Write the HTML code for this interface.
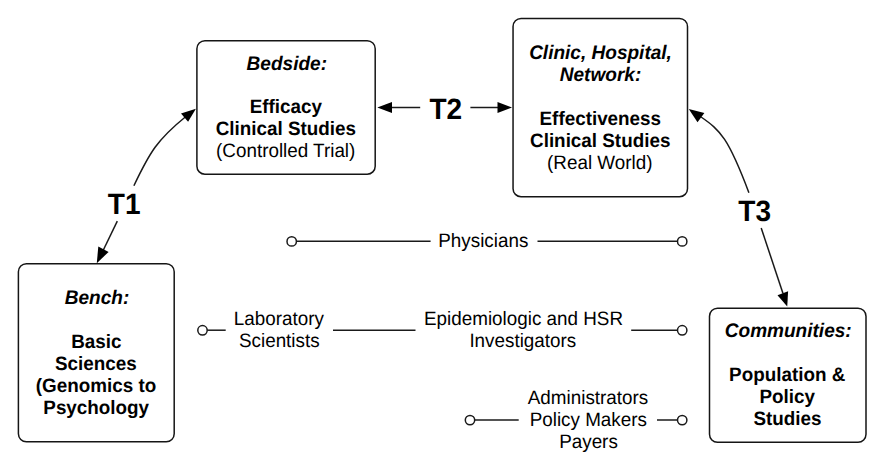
<!DOCTYPE html>
<html><head><meta charset="utf-8"><title>Translational research diagram</title>
<style>
html,body{margin:0;padding:0;background:#fff;}
svg{display:block;}
text{font-family:"Liberation Sans",Arial,Helvetica,sans-serif;fill:#000;text-rendering:geometricPrecision;}
.b{font-weight:bold;}
.bi{font-weight:bold;font-style:italic;}
.box{fill:#fff;stroke:#151515;stroke-width:1.5;}
.ln{fill:none;stroke:#1a1a1a;stroke-width:1.5;}
.c{fill:#fff;stroke:#1a1a1a;stroke-width:1.5;}
.ah{fill:#000;stroke:none;}
.t{font-size:18.85px;text-anchor:middle;}
.t.bi{font-size:19.05px;}
.T{font-size:28.6px;font-weight:bold;text-anchor:middle;}
</style></head>
<body>
<svg width="881" height="466" viewBox="0 0 881 466">
<rect width="881" height="466" fill="#fff"/>
<!-- boxes -->
<rect class="box" x="196.9" y="40.7" width="178.3" height="133.5" rx="8"/>
<rect class="box" x="513.05" y="18.5" width="174.45" height="178.2" rx="8"/>
<rect class="box" x="18.4" y="263.7" width="155.8" height="178.1" rx="8"/>
<rect class="box" x="709.5" y="308.2" width="156.5" height="134.1" rx="8"/>

<!-- connectors -->
<line class="ln" x1="296" y1="241.2" x2="430.6" y2="241.2"/>
<line class="ln" x1="537.5" y1="241.2" x2="678" y2="241.2"/>
<circle class="c" cx="291.7" cy="241.4" r="4.7"/>
<circle class="c" cx="682.2" cy="241.4" r="4.7"/>

<line class="ln" x1="207" y1="330.2" x2="225.7" y2="330.2"/>
<line class="ln" x1="333" y1="330.2" x2="415.5" y2="330.2"/>
<line class="ln" x1="631.2" y1="330.2" x2="678" y2="330.2"/>
<circle class="c" cx="202.5" cy="330.3" r="4.7"/>
<circle class="c" cx="682.2" cy="330.3" r="4.7"/>

<line class="ln" x1="475" y1="420" x2="518.7" y2="420"/>
<line class="ln" x1="657" y1="420" x2="678" y2="420"/>
<circle class="c" cx="470" cy="420.1" r="4.7"/>
<circle class="c" cx="682.2" cy="420.1" r="4.7"/>

<!-- arrows -->
<path class="ln" d="M185.3 117.0 C157.5 139.5 149.7 152.4 133.9 185.8"/>
<path class="ln" d="M117.3 221.2 C113.1 229.9 108.4 239.6 103.1 250.5"/>
<polygon class="ah" points="195.9,108.7 181,113.6 188.1,121.7"/>
<polygon class="ah" points="96.8,263.2 98.3,246.4 108.6,251.9"/>

<line class="ln" x1="390" y1="107.5" x2="420.2" y2="107.5"/>
<line class="ln" x1="470.4" y1="107.5" x2="499" y2="107.5"/>
<polygon class="ah" points="377.3,107.5 392,102 392,113"/>
<polygon class="ah" points="512,107.5 497.5,102 497.5,113"/>

<path class="ln" d="M701.1 117.0 C720.6 130.5 728.3 138.1 748.9 192.7"/>
<path class="ln" d="M761.2 228.0 C767.3 246.2 774.5 267.7 783.0 293.5"/>
<polygon class="ah" points="688.75,109 704.4,113.1 697.5,122.25"/>
<polygon class="ah" points="787.25,306.5 777.5,295.25 788.1,291.25"/>

<!-- labels -->
<text class="t bi" transform="translate(286.8 69.8) scale(1 1.03)">Bedside:</text>
<text class="t b" transform="translate(285.8 113.4) scale(1 1.03)">Efficacy</text>
<text class="t b" transform="translate(285.8 135.1) scale(1 1.03)">Clinical Studies</text>
<text class="t" transform="translate(285.7 157.1) scale(1 1.03)">(Controlled Trial)</text>
<text class="t bi" transform="translate(600.5 58.7) scale(1 1.03)">Clinic, Hospital,</text>
<text class="t bi" transform="translate(600.5 80.7) scale(1 1.03)">Network:</text>
<text class="t b" transform="translate(600.3 124.7) scale(1 1.03)">Effectiveness</text>
<text class="t b" transform="translate(600.2 146.7) scale(1 1.03)">Clinical Studies</text>
<text class="t" transform="translate(599.8 168.7) scale(1 1.03)">(Real World)</text>
<text class="t bi" transform="translate(97.0 304.1) scale(1 1.03)">Bench:</text>
<text class="t b" transform="translate(96.3 348.1) scale(1 1.03)">Basic</text>
<text class="t b" transform="translate(95.8 370.1) scale(1 1.03)">Sciences</text>
<text class="t b" transform="translate(96.0 392.1) scale(1 1.03)">(Genomics to</text>
<text class="t b" transform="translate(96.2 414.1) scale(1 1.03)">Psychology</text>
<text class="t bi" transform="translate(788.2 336.6) scale(1 1.03)">Communities:</text>
<text class="t b" transform="translate(787.2 380.5) scale(1 1.03)">Population &amp;</text>
<text class="t b" transform="translate(787.2 402.5) scale(1 1.03)">Policy</text>
<text class="t b" transform="translate(787.5 424.5) scale(1 1.03)">Studies</text>
<text class="T" transform="translate(124.2 214.4) scale(0.98 1.03)">T1</text>
<text class="T" transform="translate(445.8 118.6) scale(0.98 1.03)">T2</text>
<text class="T" transform="translate(754.7 221.1) scale(0.98 1.03)">T3</text>
<text class="t" transform="translate(483.3 247.3) scale(1 1.03)">Physicians</text>
<text class="t" transform="translate(278.9 325.3) scale(1 1.03)">Laboratory</text>
<text class="t" transform="translate(279.3 347.3) scale(1 1.03)">Scientists</text>
<text class="t" transform="translate(523.5 325.1) scale(1 1.03)">Epidemiologic and HSR</text>
<text class="t" transform="translate(522.8 347.1) scale(1 1.03)">Investigators</text>
<text class="t" transform="translate(588.0 403.9) scale(1 1.03)">Administrators</text>
<text class="t" transform="translate(588.3 425.9) scale(1 1.03)">Policy Makers</text>
<text class="t" transform="translate(588.5 447.6) scale(1 1.03)">Payers</text>
</svg>
</body></html>
